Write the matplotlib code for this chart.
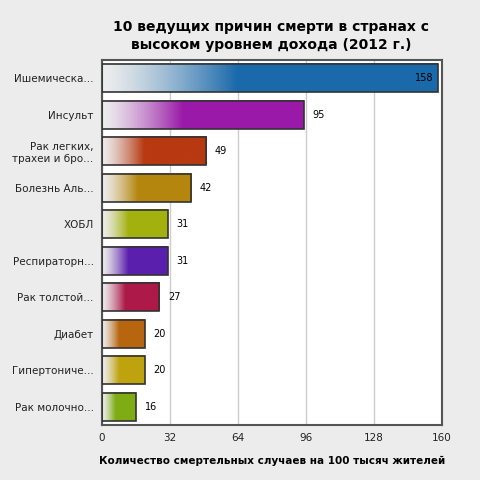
import numpy as np
import matplotlib.pyplot as plt
from matplotlib.colors import to_rgb

labels = ["Ишемическа...", "Инсульт", "Рак легких,\nтрахеи и бро...", "Болезнь Аль...", "ХОБЛ",
          "Респираторн...", "Рак толстой...", "Диабет", "Гипертониче...", "Рак молочно..."]
values = [158, 95, 49, 42, 31, 31, 27, 20, 20, 16]
colors = ["#1b6aab", "#9a1aa8", "#b83a12", "#b5860d", "#a3b10f",
          "#5a1fad", "#ad1a4a", "#b8650f", "#bfa30f", "#7fac14"]
ticks = [0, 32, 64, 96, 128, 160]

fig = plt.figure(figsize=(4.8, 4.8), dpi=100)
fig.patch.set_facecolor("#ececec")
ax = fig.add_axes([102 / 480, 55 / 480, 340 / 480, 365 / 480])
ax.set_facecolor("white")
n = len(values)
ax.set_axisbelow(True)
ax.grid(axis="x", color="#cccccc", lw=1)
for s in ax.spines.values():
    s.set_color("#555555")
    s.set_linewidth(1.5)

h = 0.78
for i, (v, c) in enumerate(zip(values, colors)):
    rgb = np.array(to_rgb(c))
    t = np.linspace(0, 1, 200)
    frac = np.clip(t / 0.4, 0, 1)[:, None] ** 1.3
    start = np.array([0.93, 0.93, 0.93])
    img = start + (rgb - start) * frac
    ax.imshow(img[None, :, :], extent=[0, v, i + h / 2, i - h / 2], aspect="auto", zorder=2,
              interpolation="bilinear")
    ax.add_patch(plt.Rectangle((0, i - h / 2), v, h, fill=False, ec="#333333", lw=1.2, zorder=3))
    if v > 140:
        ax.text(v - 2, i, str(v), ha="right", va="center", fontsize=7, zorder=4)
    else:
        ax.text(v + 4, i, str(v), ha="left", va="center", fontsize=7, zorder=4)
ax.set_xlim(0, 160)
ax.set_ylim(n - 0.5, -0.5)
ax.set_yticks(range(n))
ax.set_yticklabels(labels, fontsize=7.5, color="#222222")
ax.set_xticks(ticks)
ax.set_xticklabels([str(x) for x in ticks], fontsize=7.5, color="#222222")
ax.tick_params(length=0, pad=6)
ax.set_xlabel("Количество смертельных случаев на 100 тысяч жителей", fontsize=7.5,
              fontweight="bold", labelpad=9)
fig.text(0.565, 0.925, "10 ведущих причин смерти в странах с\nвысоком уровнем дохода (2012 г.)",
         ha="center", va="center", fontsize=10, fontweight="bold", linespacing=1.4)
fig.savefig("out.png", dpi=100, facecolor=fig.get_facecolor())
